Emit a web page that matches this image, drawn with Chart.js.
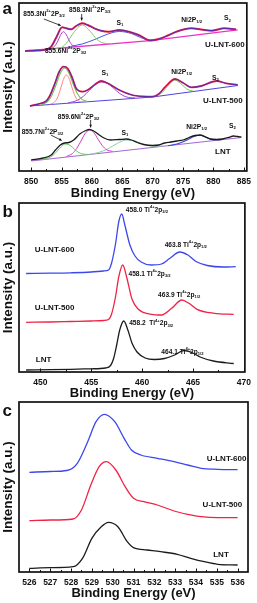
<!DOCTYPE html>
<html><head><meta charset="utf-8">
<script src="https://cdn.jsdelivr.net/npm/chart.js@4.4.0/dist/chart.umd.min.js"></script>
<style>
html,body{margin:0;padding:0;background:#fff;}
body{width:257px;height:603px;position:relative;overflow:hidden;}
canvas{position:absolute;left:0;}
</style></head><body>
<canvas id="ca" width="257" height="200" style="top:0"></canvas>
<canvas id="cb" width="257" height="200" style="top:200px"></canvas>
<canvas id="cc" width="257" height="203" style="top:400px"></canvas>
<script>
// ---------- Panel a : Ni 2p ----------
const aTicks = [850, 855, 860, 865, 870, 875, 880, 885];
// U-LNT-600
const a600E = [849.0, 851, 852.5, 853.3, 854.2, 855.1, 855.8, 856.6, 857.4, 858.4, 859.3, 860.4, 861.5, 862.8, 864.5, 866.1, 867.7, 869.6, 871, 872.5, 874, 876.4, 878, 879.7, 881.8, 883.7];
const a600I = [120, 120.5, 121.5, 124.3, 134.3, 143.7, 142.7, 141.7, 145, 147.7, 146, 142.7, 140.3, 139.3, 141, 139.3, 136, 130.5, 132, 135.5, 139.5, 142.7, 141.5, 140.3, 142.7, 141.7];
const a600BaseE = [849, 869.6, 884];
const a600BaseI = [120, 130.3, 141.2];
const a600P1E = [853.1, 853.8, 854.3, 854.8, 855.3, 855.8, 856.3, 856.8, 857.5];
const a600P1I = [122.1, 124.4, 128.8, 135.5, 139.3, 136.1, 129.9, 125.7, 124.4];
const a600P2E = [853.5, 855, 856, 857, 858.4, 859.8, 860.8, 861.8, 863.3];
const a600P2I = [122.3, 123.6, 129.4, 138.4, 146, 139.1, 131.8, 128.1, 127.3];
const a600S1E = [856.5, 858.5, 860.5, 862.5, 864.5, 866.5, 868, 869.5, 871];
const a600S1I = [124.7, 127.2, 131.6, 136.7, 139.5, 137.5, 133.5, 131, 131.5];
// U-LNT-500
const a500E = [849.8, 851.5, 852.5, 853.1, 853.9, 854.6, 855.3, 856.0, 856.8, 857.4, 858.5, 859.3, 860.4, 861.5, 862.6, 864.5, 866.6, 868.5, 869.9, 871, 872.1, 873.7, 875.1, 876.4, 878, 880.5, 882.1, 884];
const a500I = [65, 67.5, 70, 75.5, 87.5, 99, 104.3, 102.7, 92.7, 82.7, 79.3, 81, 86, 90, 87.7, 81, 76, 74.5, 74.3, 77, 84.3, 92, 87.7, 83.7, 85, 90, 87.7, 86];
const a500BaseE = [849.8, 870, 884];
const a500BaseI = [65, 74, 85.5];
const a500P1E = [851.7, 852.7, 853.4, 854.1, 854.8, 855.5, 856.2, 856.9, 857.6, 858.3, 859.3];
const a500P1I = [66.3, 69.4, 75.6, 86.2, 97.7, 103, 98.3, 87.3, 77.4, 71.8, 69.5];
const a500P2E = [853.1, 853.8, 854.3, 854.8, 855.3, 855.8, 856.3, 856.8, 857.3, 857.8, 858.5];
const a500P2I = [66.7, 68.7, 73.0, 81.4, 91.4, 96, 91.6, 82.0, 74.0, 70.0, 68.9];
const a500S1E = [856.1, 857.6, 858.6, 859.6, 860.6, 861.6, 862.6, 863.6, 864.6, 865.6, 867.1];
const a500S1I = [68.1, 70.7, 74.7, 80.8, 86.5, 89, 87.4, 82.6, 77.4, 74.2, 73.0];
const a500NiE = [870.6, 871.6, 872.6, 873.6, 874.6, 875.6, 876.6];
const a500NiI = [75.1, 78.7, 85.9, 91, 87.7, 82.0, 80.0];
// LNT
const aLntE = [850.0, 852, 853.3, 854, 854.8, 855.5, 856.2, 857, 858, 859, 859.6, 860.3, 861, 862, 863, 864.5, 865.7, 866.5, 867.5, 868.5, 870, 871, 872, 873, 874, 875, 876, 877, 877.8, 878.6, 879.5, 880.5, 881.5, 882.5, 883.3, 884, 884.6];
const aLntI = [11, 13, 16, 21, 26, 28, 28.5, 31, 37, 40.5, 41.5, 40, 37, 33, 31, 31.5, 32, 31, 28.5, 26.5, 25.5, 26, 28, 29, 30, 31, 33.5, 35.5, 36, 34.5, 32, 31.5, 32, 33.5, 35, 34.5, 34];
const aLntBaseE = [850, 884.6];
const aLntBaseI = [10, 33.5];
const aLntP1E = [851.9, 852.9, 853.6, 854.3, 855, 855.7, 856.4, 857.1, 857.8, 858.5, 859.5];
const aLntP1I = [11.5, 13.2, 15.7, 20.0, 24.7, 27, 25.7, 21.9, 18.6, 17.0, 16.6];
const aLntP2E = [855.8, 856.8, 857.5, 858.2, 858.9, 859.6, 860.3, 861, 861.7, 862.4, 863.4];
const aLntP2I = [14.5, 17.5, 22.6, 30.0, 37.6, 41, 38.5, 31.9, 25.5, 21.3, 19.6];
const aLntS1E = [859.7, 861.2, 862.7, 864.2, 865.7, 867.2, 868.7, 870.2, 871.7];
const aLntS1I = [16.8, 18.7, 22.4, 27.7, 31, 29.7, 26.5, 24.8, 25.0];
const aLntNiE = [872.5, 874, 875.5, 876.8, 877.8, 878.8, 880, 881.5];
const aLntNiI = [25.3, 27, 30.5, 34.5, 35.8, 33.5, 31.2, 31.5];

// ---------- Panel b : Ti 2p ----------
const bTicks = [450, 455, 460, 465, 470];
const b600E = [448.6, 451, 453, 455, 456.2, 456.7, 457.0, 457.4, 457.7, 458.0, 458.3, 458.8, 459.3, 459.9, 460.9, 461.9, 462.7, 463.7, 464.5, 465.3, 466.4, 468.0, 469.2];
const b600I = [98.5, 98.8, 99.2, 100, 101, 102, 109, 129, 150, 158, 147, 127, 116, 110, 107, 108, 113.5, 120, 117, 110.5, 106.5, 105, 105.3];
const b500E = [448.6, 451, 453, 455, 456.2, 456.7, 457.0, 457.4, 457.7, 458.1, 458.5, 459.0, 459.6, 460.9, 461.9, 462.9, 463.9, 464.6, 465.4, 467.1, 469.0];
const b500I = [49.7, 50, 50.5, 51, 51.5, 52.5, 58, 76, 95, 107, 94, 73, 63, 57.7, 57, 63.7, 72, 68.7, 62.7, 58.7, 57.7];
const bLntE = [448.6, 451, 453, 455, 456.4, 456.9, 457.2, 457.5, 457.8, 458.2, 458.6, 459.0, 459.5, 460.3, 461.2, 462.2, 463.2, 464.1, 464.9, 465.7, 467, 469];
const bLntI = [2, 2.3, 2.7, 3.2, 4, 6.5, 13.5, 27, 42, 51, 42, 29, 20, 14, 12.5, 13.5, 17, 21.5, 19.5, 15, 11, 8.5];

// ---------- Panel c : O 1s ----------
const cTicks = [526, 527, 528, 529, 530, 531, 532, 533, 534, 535, 536];
const c600E = [526.0, 527.0, 527.8, 528.3, 528.8, 529.2, 529.6, 530.1, 530.55, 530.9, 531.35, 532.15, 532.95, 533.6, 534.25, 535.05, 536.0];
const c600I = [99.7, 100.5, 101.5, 108.7, 130.3, 150.3, 157.7, 150.3, 133.7, 122, 117, 113.7, 110.3, 107, 103.7, 102.7, 102.3];
const c500E = [526.0, 527.0, 528.1, 528.5, 528.95, 529.35, 529.7, 530.15, 530.6, 531.0, 531.5, 532.15, 532.95, 533.6, 534.25, 535.05, 536.0];
const c500I = [51.3, 52, 53, 62, 87, 105.3, 110.3, 102, 85.3, 73.7, 70.3, 67, 61, 57.7, 55.3, 54.3, 54.3];
const cLntE = [526.0, 527.0, 528.1, 528.55, 529.0, 529.45, 529.8, 530.25, 530.7, 531.0, 531.65, 532.3, 533.1, 533.75, 534.4, 535.05, 536.0];
const cLntI = [3.7, 4.3, 5.3, 13.7, 33.7, 45.3, 49.7, 45.3, 30.3, 24.3, 22, 20.3, 17.7, 13.7, 10.3, 7.7, 7];

// ---------- text labels ----------
const niLbl = (v) => [[v + 'Ni', 'n'], ['2+', 'sup'], ['2P', 'n'], ['3/2', 'sub']];
const tiLbl = (v, h) => [[v + ' Ti', 'n'], ['4+', 'sup'], ['2p', 'n'], [h, 'sub']];
const aNotes = [
  {x: 848.70, y: 157, s: 6.6, t: niLbl('855.3')},
  {x: 856.24, y: 161, s: 6.6, t: niLbl('858.3')},
  {x: 864.05, y: 148, s: 6.8, t: [['S', 'n'], ['1', 'sub']]},
  {x: 874.69, y: 151, s: 6.8, t: [['Ni2P', 'n'], ['1/2', 'sub']]},
  {x: 881.73, y: 152.5, s: 6.8, t: [['S', 'n'], ['2', 'sub']]},
  {x: 878.62, y: 126, s: 8, t: [['U-LNT-600', 'n']]},
  {x: 852.26, y: 120, s: 6.6, t: niLbl('855.6')},
  {x: 861.59, y: 98, s: 6.8, t: [['S', 'n'], ['1', 'sub']]},
  {x: 873.05, y: 99, s: 6.8, t: [['Ni2P', 'n'], ['1/2', 'sub']]},
  {x: 879.77, y: 93, s: 6.8, t: [['S', 'n'], ['2', 'sub']]},
  {x: 878.29, y: 70, s: 8, t: [['U-LNT-500', 'n']]},
  {x: 848.44, y: 39.3, s: 6.6, t: niLbl('855.7')},
  {x: 854.39, y: 54.3, s: 6.6, t: niLbl('859.6')},
  {x: 864.87, y: 38.3, s: 6.8, t: [['S', 'n'], ['1', 'sub']]},
  {x: 875.51, y: 44.3, s: 6.8, t: [['Ni2P', 'n'], ['1/2', 'sub']]},
  {x: 882.55, y: 45, s: 6.8, t: [['S', 'n'], ['2', 'sub']]},
  {x: 880.26, y: 19.3, s: 8, t: [['LNT', 'n']]}
];
const aArrows = [
  [852.09, 152, 854.88, 145.5], [858.32, 157, 858.32, 150.5],
  [853.24, 36, 855.04, 30.5], [859.79, 51, 859.79, 43.5]
];
const bNotes = [
  {x: 449.45, y: 122, s: 8, t: [['U-LNT-600', 'n']]},
  {x: 449.45, y: 64, s: 8, t: [['U-LNT-500', 'n']]},
  {x: 449.55, y: 12.5, s: 8, t: [['LNT', 'n']]},
  {x: 458.40, y: 162, s: 6.6, t: tiLbl('458.0', '3/2')},
  {x: 462.22, y: 127, s: 6.6, t: tiLbl('463.8', '1/2')},
  {x: 458.66, y: 98, s: 6.6, t: tiLbl('458.1', '3/2')},
  {x: 461.57, y: 77, s: 6.6, t: tiLbl('463.9', '1/2')},
  {x: 458.73, y: 48.7, s: 6.6, t: tiLbl('458.2 ', '3/2')},
  {x: 461.89, y: 20.3, s: 6.6, t: tiLbl('464.1', '1/2')}
];
const cNotes = [
  {x: 534.52, y: 113.7, s: 8, t: [['U-LNT-600', 'n']]},
  {x: 534.32, y: 67, s: 8, t: [['U-LNT-500', 'n']]},
  {x: 534.83, y: 17, s: 8, t: [['LNT', 'n']]}
];

// ---------- helpers ----------
const FONT = '"Liberation Sans", Arial, Helvetica, sans-serif';
function pts(E, I) { return E.map((e, i) => ({x: e, y: I[i]})); }
function ds(E, I, color, width, straight) {
  return {data: pts(E, I), borderColor: color, borderWidth: width, pointRadius: 0, fill: false,
          cubicInterpolationMode: straight ? 'default' : 'monotone', tension: 0};
}
function drawRich(ctx, x, y, parts, size) {
  let cx = x;
  for (const [t, k] of parts) {
    const s = k === 'n' ? size : size * 0.62;
    ctx.font = 'bold ' + s + 'px ' + FONT;
    const dy = k === 'sup' ? -size * 0.42 : (k === 'sub' ? size * 0.34 : 0);
    ctx.fillText(t, cx, y + dy);
    cx += ctx.measureText(t).width;
  }
}
const panelPlugin = {
  id: 'panel',
  afterDatasetsDraw(chart, args, o) {
    const {ctx, chartArea: ca, scales: {x, y}} = chart;
    ctx.save();
    ctx.strokeStyle = '#111';
    ctx.lineWidth = 1;
    const minor = o.ticks.slice(1).map((t, i) => (t + o.ticks[i]) / 2);
    ctx.beginPath();
    for (const v of o.ticks) { const p = Math.round(x.getPixelForValue(v)) + 0.5; ctx.moveTo(p, ca.bottom); ctx.lineTo(p, ca.bottom - 3.5); }
    for (const v of minor) { const p = Math.round(x.getPixelForValue(v)) + 0.5; ctx.moveTo(p, ca.bottom); ctx.lineTo(p, ca.bottom - 2); }
    ctx.stroke();
    ctx.lineWidth = 1.7;
    ctx.strokeRect(ca.left, ca.top, ca.right - ca.left, ca.bottom - ca.top);
    ctx.fillStyle = '#111';
    ctx.textBaseline = 'middle';
    ctx.textAlign = 'left';
    for (const n of o.notes) drawRich(ctx, x.getPixelForValue(n.x), y.getPixelForValue(n.y), n.t, n.s);
    ctx.lineWidth = 0.8;
    for (const [x0, y0, x1, y1] of (o.arrows || [])) {
      const X0 = x.getPixelForValue(x0), Y0 = y.getPixelForValue(y0), X1 = x.getPixelForValue(x1), Y1 = y.getPixelForValue(y1);
      ctx.beginPath(); ctx.moveTo(X0, Y0); ctx.lineTo(X1, Y1); ctx.stroke();
      const ang = Math.atan2(Y1 - Y0, X1 - X0);
      ctx.beginPath(); ctx.moveTo(X1, Y1);
      ctx.lineTo(X1 - 3 * Math.cos(ang - 0.45), Y1 - 3 * Math.sin(ang - 0.45));
      ctx.lineTo(X1 - 3 * Math.cos(ang + 0.45), Y1 - 3 * Math.sin(ang + 0.45));
      ctx.closePath(); ctx.fill();
    }
    ctx.textBaseline = 'alphabetic';
    ctx.font = 'bold 17px ' + FONT;
    ctx.fillText(o.letter, 2.5, o.letterY);
    ctx.restore();
  }
};
function makeChart(id, c) {
  return new Chart(document.getElementById(id), {
    type: 'line',
    data: {datasets: c.datasets},
    options: {
      responsive: false, animation: false, devicePixelRatio: 1,
      layout: {padding: {top: c.top, right: 9, left: 0, bottom: 0}},
      plugins: {legend: {display: false}, tooltip: {enabled: false},
                panel: {ticks: c.ticks, notes: c.notes, arrows: c.arrows, letter: c.letter, letterY: c.letterY}},
      scales: {
        x: {type: 'linear', min: c.xmin, max: c.xmax,
            afterBuildTicks: s => { s.ticks = c.ticks.map(v => ({value: v})); },
            afterFit: s => { s.height = c.xh; },
            grid: {display: false, drawTicks: false}, border: {display: false},
            ticks: {font: {family: FONT, size: 8.5, weight: 'bold', lineHeight: 1}, color: '#111', padding: 6, maxRotation: 0, autoSkip: false},
            title: {display: true, text: 'Binding Energy (eV)', font: {family: FONT, size: 13, weight: 'bold', lineHeight: 1}, color: '#111', padding: {top: 0, bottom: c.tpad}}},
        y: {type: 'linear', min: 0, max: c.ymax,
            afterFit: s => { s.width = 19; },
            grid: {display: false, drawTicks: false}, border: {display: false}, ticks: {display: false},
            title: {display: true, text: 'Intensity (a.u.)', font: {family: FONT, size: 13.5, weight: 'bold', lineHeight: 1}, color: '#111', padding: {top: 1.2, bottom: 0}}}
      }
    },
    plugins: [panelPlugin]
  });
}

const RED = 'rgb(240, 35, 70)', FIT = 'rgb(35, 45, 210)', BLUE = 'rgb(60, 72, 235)', BLK = '#1c1c1c';

makeChart('ca', {
  top: 3, xh: 29, ymax: 168, xmin: 848, xmax: 885.5, tpad: 0.5, ticks: aTicks,
  notes: aNotes, arrows: aArrows, letter: 'a', letterY: 13.5,
  datasets: [
    ds(a600E, a600I, FIT, 0.8),
    ds(a500E, a500I, FIT, 0.8),
    ds(a600E, a600I, RED, 2),
    ds(a500E, a500I, RED, 1.8),
    ds(aLntE, aLntI, BLK, 1.3),
    ds(a600P1E, a600P1I, 'rgb(175, 60, 205)', 1),
    ds(a600P2E, a600P2I, 'rgb(120, 200, 110)', 1),
    ds(a600S1E, a600S1I, 'rgb(60, 90, 230)', 1),
    ds(a600BaseE, a600BaseI, 'rgb(240, 50, 200)', 1.3, true),
    ds(a500P2E, a500P2I, 'rgb(255, 130, 130)', 1),
    ds(a500P1E, a500P1I, 'rgb(100, 200, 90)', 1.1),
    ds(a500S1E, a500S1I, 'rgb(175, 60, 205)', 1),
    ds(a500NiE, a500NiI, 'rgb(100, 200, 90)', 1),
    ds(a500BaseE, a500BaseI, 'rgb(80, 70, 220)', 1.2, true),
    ds(aLntNiE, aLntNiI, 'rgb(60, 70, 220)', 1.1),
    ds(aLntP1E, aLntP1I, 'rgb(110, 200, 100)', 1),
    ds(aLntP2E, aLntP2I, 'rgb(215, 60, 200)', 1),
    ds(aLntS1E, aLntS1I, 'rgb(140, 205, 170)', 1),
    ds(aLntBaseE, aLntBaseI, 'rgb(165, 105, 210)', 1.1, true)
  ]
});
makeChart('cb', {
  top: 3, xh: 28, ymax: 169, xmin: 447.9, xmax: 470.1, tpad: 0, ticks: bTicks,
  notes: bNotes, letter: 'b', letterY: 16.7,
  datasets: [
    ds(b600E, b600I, BLUE, 1.3),
    ds(b500E, b500I, RED, 1.3),
    ds(bLntE, bLntI, BLK, 1.3)
  ]
});
makeChart('cc', {
  top: 2, xh: 31, ymax: 170, xmin: 525.5, xmax: 536.5, tpad: 3.5, ticks: cTicks,
  notes: cNotes, letter: 'c', letterY: 15.7,
  datasets: [
    ds(c600E, c600I, BLUE, 1.3),
    ds(c500E, c500I, RED, 1.3),
    ds(cLntE, cLntI, BLK, 1.3)
  ]
});
</script>
</body></html>
